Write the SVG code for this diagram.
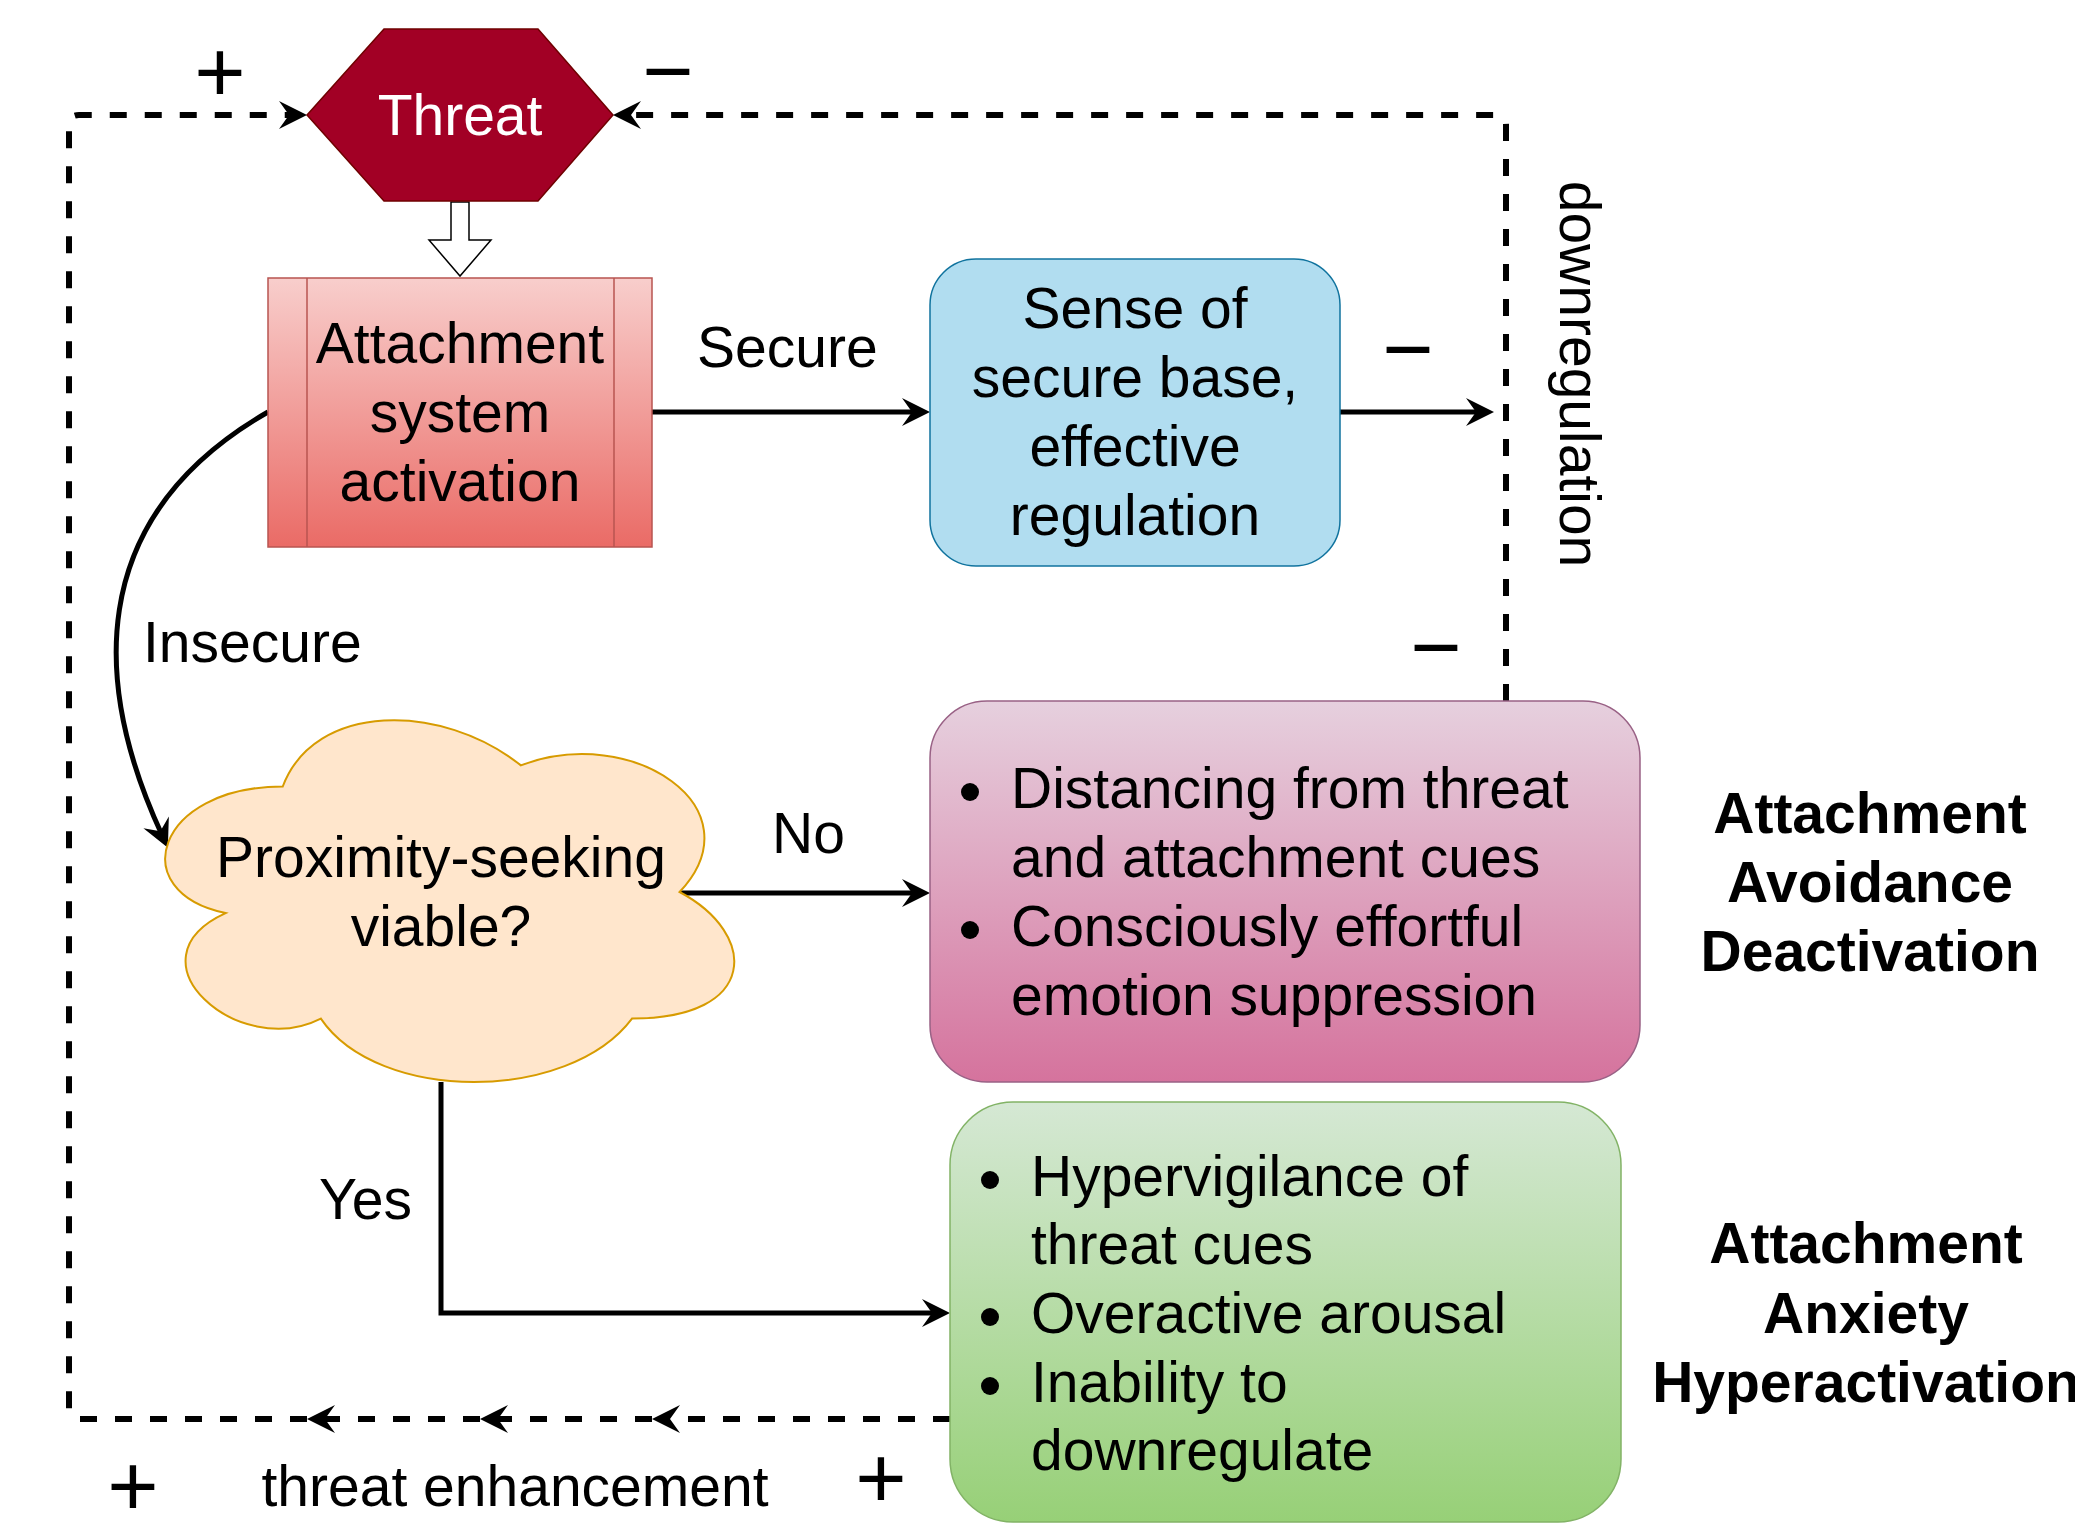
<svg xmlns="http://www.w3.org/2000/svg" width="2075" height="1524" viewBox="0 0 2075 1524">
<defs>
<style>
.t{font-family:"Liberation Sans",Arial,Helvetica,sans-serif;font-size:57px;fill:#000}
.c{text-anchor:middle}
.b{font-weight:bold}
.sym{font-family:"Liberation Sans",Arial,sans-serif;font-size:88px;fill:#000;text-anchor:middle}
.solid{fill:none;stroke:#000;stroke-width:5}
.dash{fill:none;stroke:#000;stroke-width:6;stroke-dasharray:17 18}
.arrow{marker-end:url(#ah)}
</style>
<marker id="ah" markerUnits="userSpaceOnUse" viewBox="-16 -16 32 32" markerWidth="32" markerHeight="32" refX="0" refY="0" orient="auto">
<path d="M14,0 L-14,-14 L-4,0 L-14,14 Z" fill="#000"/>
</marker>
<linearGradient id="gRed" x1="0" y1="0" x2="0" y2="1"><stop offset="0" stop-color="#f8cecc"/><stop offset="1" stop-color="#ea6b66"/></linearGradient>
<linearGradient id="gPink" x1="0" y1="0" x2="0" y2="1"><stop offset="0" stop-color="#e6d0de"/><stop offset="1" stop-color="#d5739d"/></linearGradient>
<linearGradient id="gGreen" x1="0" y1="0" x2="0" y2="1"><stop offset="0" stop-color="#d5e8d4"/><stop offset="1" stop-color="#97d077"/></linearGradient>
</defs>
<rect width="2075" height="1524" fill="#fff"/>

<g id="connectors">
<path class="solid arrow" d="M652,412 L916,412"/>
<path class="solid arrow" d="M1340,412 L1480,412"/>
<path class="solid arrow" d="M680,893 L916,893"/>
<path class="solid arrow" d="M441,1082 L441,1313 L936,1313"/>
<path class="solid arrow" d="M268,412 C80,520 95,690 162,835"/>
<path class="dash arrow" d="M950,1419 L666,1419"/>
<path class="dash arrow" d="M652,1419 L494,1419"/>
<path class="dash arrow" d="M480,1419 L321,1419"/>
<path class="dash arrow" d="M307,1419 L79,1419 Q69,1419 69,1409 L69,125 Q69,115 79,115 L293,115"/>
<path class="dash arrow" d="M1506,701 L1506,125 Q1506,115 1496,115 L627,115"/>
<path d="M451,202 L469,202 L469,240 L491,240 L460,276 L429,240 L451,240 Z" fill="#fff" stroke="#000" stroke-width="1.5"/>
</g>

<g id="threat">
<polygon points="307,115 384,29 538,29 613,115 538,201 384,201" fill="#a20025" stroke="#6f0000" stroke-width="1.5"/>
<text class="t c" x="460" y="135" style="fill:#fff">Threat</text>
</g>

<g id="attachment-system">
<rect x="268" y="278" width="384" height="269" fill="url(#gRed)" stroke="#b85450" stroke-width="1.5"/>
<line x1="307" y1="278" x2="307" y2="547" stroke="#b85450" stroke-width="1.5"/>
<line x1="614" y1="278" x2="614" y2="547" stroke="#b85450" stroke-width="1.5"/>
<text class="t c" x="460" y="363">Attachment</text>
<text class="t c" x="460" y="432">system</text>
<text class="t c" x="460" y="501">activation</text>
</g>

<g id="secure-base">
<rect x="930" y="259" width="410" height="307" rx="46" ry="46" fill="#b1ddf0" stroke="#10739e" stroke-width="1.5"/>
<text class="t c" x="1135" y="328">Sense of</text>
<text class="t c" x="1135" y="397">secure base,</text>
<text class="t c" x="1135" y="466">effective</text>
<text class="t c" x="1135" y="535">regulation</text>
</g>

<g id="proximity">
<path d="M282.75,786.5 C155.75,786.5 124,892 225.6,913.1 C124,959.5 238.3,1060.8 320.85,1018.6 C378,1103 568.5,1103 632,1018.6 C759,1018.6 759,934.2 679.6,892 C759,807.6 632,723.2 520.9,765.4 C441.5,702.1 314.5,702.1 282.75,786.5 Z" fill="#ffe6cc" stroke="#d79b00" stroke-width="2"/>
<text class="t c" x="441" y="877">Proximity-seeking</text>
<text class="t c" x="441" y="946">viable?</text>
</g>

<g id="avoidance-box">
<rect x="930" y="701" width="710" height="381" rx="57" ry="57" fill="url(#gPink)" stroke="#996185" stroke-width="1.5"/>
<circle cx="970" cy="792" r="9"/>
<circle cx="970" cy="930" r="9"/>
<text class="t" x="1011" y="808">Distancing from threat</text>
<text class="t" x="1011" y="877">and attachment cues</text>
<text class="t" x="1011" y="946">Consciously effortful</text>
<text class="t" x="1011" y="1015">emotion suppression</text>
</g>

<g id="anxiety-box">
<rect x="950" y="1102" width="671" height="420" rx="63" ry="63" fill="url(#gGreen)" stroke="#82b366" stroke-width="1.5"/>
<circle cx="990" cy="1180" r="9"/>
<circle cx="990" cy="1317" r="9"/>
<circle cx="990" cy="1386" r="9"/>
<text class="t" x="1031" y="1196">Hypervigilance of</text>
<text class="t" x="1031" y="1264">threat cues</text>
<text class="t" x="1031" y="1333">Overactive arousal</text>
<text class="t" x="1031" y="1402">Inability to</text>
<text class="t" x="1031" y="1470">downregulate</text>
</g>

<g id="avoidance-label">
<text class="t c b" x="1870" y="833">Attachment</text>
<text class="t c b" x="1870" y="902">Avoidance</text>
<text class="t c b" x="1870" y="971">Deactivation</text>
</g>

<g id="anxiety-label">
<text class="t c b" x="1866" y="1263">Attachment</text>
<text class="t c b" x="1866" y="1333">Anxiety</text>
<text class="t c b" x="1866" y="1402">Hyperactivation</text>
</g>

<g id="labels">
<text class="t" x="697" y="367">Secure</text>
<text class="t" x="143" y="662">Insecure</text>
<text class="t" x="772" y="853">No</text>
<text class="t" x="319" y="1219">Yes</text>
<text class="t c" x="515" y="1506">threat enhancement</text>
<text class="t c" transform="translate(1560,374) rotate(90)" x="0" y="0">downregulation</text>
<text class="sym" x="220" y="102">+</text>
<text class="sym" x="668" y="101">−</text>
<text class="sym" x="1408" y="379">−</text>
<text class="sym" x="1436" y="677">−</text>
<text class="sym" x="133" y="1516">+</text>
<text class="sym" x="881" y="1508">+</text>
</g>
</svg>
